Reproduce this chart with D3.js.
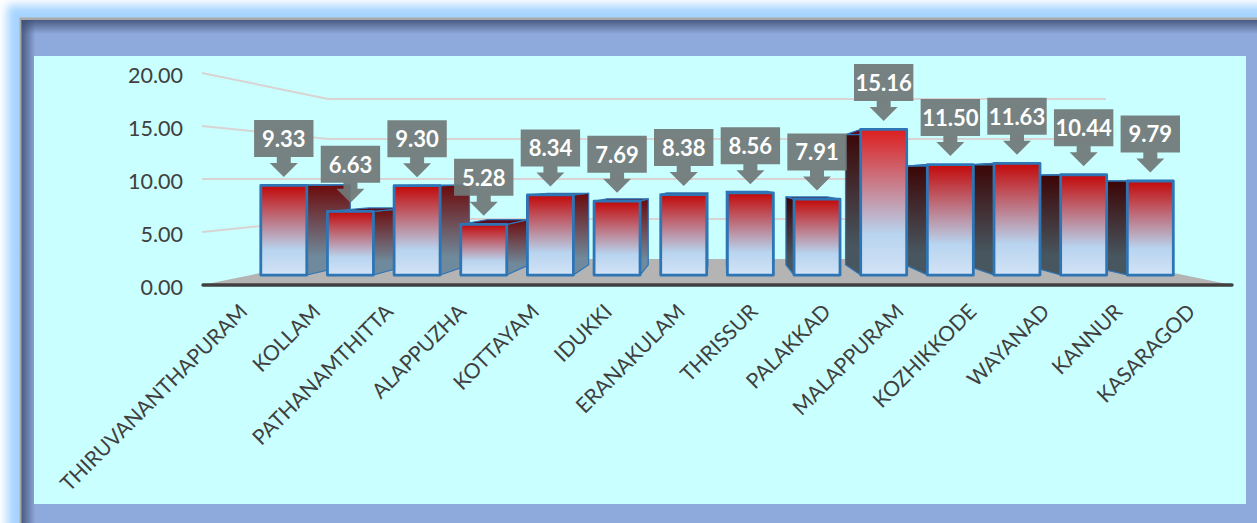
<!DOCTYPE html>
<html>
<head>
<meta charset="utf-8">
<script src="https://cdn.jsdelivr.net/npm/d3@7"></script>
<style>
html, body { margin: 0; padding: 0; background: #fff; overflow: hidden; }
svg { display: block; }
text { font-family: Lato, "Open Sans", sans-serif; }
</style>
</head>
<body>
<div id="vis"></div>
<script>
const districts = ["THIRUVANANTHAPURAM", "KOLLAM", "PATHANAMTHITTA", "ALAPPUZHA", "KOTTAYAM", "IDUKKI", "ERANAKULAM",
    "THRISSUR", "PALAKKAD", "MALAPPURAM", "KOZHIKKODE", "WAYANAD", "KANNUR", "KASARAGOD"];
const amounts = [9.33, 6.63, 9.30, 5.28, 8.34, 7.69, 8.38, 8.56, 7.91, 15.16, 11.50, 11.63, 10.44, 9.79];
const y_ticks = [0, 5, 10, 15, 20];

const frame_width = 1257;
const frame_height = 523;

// perspective of the 3d plot: everything shrinks towards this point
const vanish = {x: 717.5, y: 179};
const depth_wall = 0.755;
const depth_bar_front = 0.906;
const depth_bar_back = 0.81;

const x_scale = d3.scaleBand()
    .domain(districts)
    .range([202, 1232])
    .paddingInner(0.31)
    .paddingOuter(0.155);

// category labels sit on a slightly tighter pitch than the bars
const label_scale = d3.scaleBand()
    .domain(districts)
    .range([200.35, 1221]);

const y_scale = d3.scaleLinear()
    .domain([0, 20])
    .range([285, 73]);

function project(x, value, depth) {
    return [vanish.x + (x - vanish.x) * depth, vanish.y + (y_scale(value) - vanish.y) * depth];
}

const svg = d3.select("#vis")
    .append("svg")
        .attr("width", frame_width)
        .attr("height", frame_height);

const defs = svg.append("defs");

function addGradient(id, x2, y2, stops) {
    const grad = defs.append("linearGradient")
        .attr("id", id)
        .attr("x1", 0).attr("y1", 0)
        .attr("x2", x2).attr("y2", y2);
    stops.forEach((s) => {
        grad.append("stop").attr("offset", s[0]).attr("stop-color", s[1]).attr("stop-opacity", s[2] === undefined ? 1 : s[2]);
    });
}

addGradient("front", 0, 1, [[0, "#c30808"], [0.72, "#b8d4ef"], [1, "#d2e3f6"]]);
addGradient("frontTall", 0, 1, [[0, "#dc1e1e"], [0.72, "#b8d4ef"], [1, "#d2e3f6"]]);
addGradient("sideLight", 0, 1, [[0, "#6c0a0a"], [0.8, "#6f8a9c"], [1, "#6f8a9c"]]);
addGradient("sideDark", 0, 1, [[0, "#3c0404"], [0.8, "#47565f"], [1, "#47565f"]]);
addGradient("shadeTop", 0, 1, [[0, "#3d4d72", 0.85], [1, "#3d4d72", 0]]);
addGradient("shadeLeft", 1, 0, [[0, "#3d4d72", 0.85], [1, "#3d4d72", 0]]);

defs.append("filter")
    .attr("id", "glow")
    .attr("x", "-5%").attr("y", "-10%")
    .attr("width", "110%").attr("height", "120%")
    .append("feGaussianBlur")
        .attr("stdDeviation", 5);

// panel behind the chart
svg.append("rect")
    .attr("x", 7).attr("y", 5)
    .attr("width", 1300).attr("height", 600)
    .attr("fill", "#a6d4ff")
    .attr("filter", "url(#glow)");
svg.append("rect")
    .attr("x", 19.5).attr("y", 17.5)
    .attr("width", 1300).attr("height", 600)
    .attr("fill", "#a9a9a9");
svg.append("rect")
    .attr("x", 21.5).attr("y", 20)
    .attr("width", 1300).attr("height", 600)
    .attr("fill", "#8ea9db");
svg.append("rect")
    .attr("x", 21.5).attr("y", 20)
    .attr("width", 1300).attr("height", 14)
    .attr("fill", "url(#shadeTop)");
svg.append("rect")
    .attr("x", 21.5).attr("y", 20)
    .attr("width", 14).attr("height", 600)
    .attr("fill", "url(#shadeLeft)");
svg.append("rect")
    .attr("x", 34).attr("y", 56)
    .attr("width", 1212).attr("height", 448)
    .attr("fill", "#c9ffff");

// floor
const floor = [project(202, 0, 1), project(202, 0, depth_wall), project(1232, 0, depth_wall), project(1232, 0, 1)];
svg.append("polygon")
    .attr("points", floor.join(" "))
    .attr("fill", "#b4b4b4");

// gridlines run along the left wall then the back wall
svg.selectAll(".grid")
    .data(y_ticks.filter((d) => {return d > 0;}))
    .enter()
    .append("polyline")
        .attr("class", "grid")
        .attr("points", (d) => {return [project(202, d, 1), project(202, d, depth_wall), project(1232, d, depth_wall)].join(" ");})
        .attr("fill", "none")
        .attr("stroke", "#d9d3d3")
        .attr("stroke-width", 2);

// axes
svg.append("g")
    .attr("transform", "translate(202,0)")
    .call(d3.axisLeft(y_scale).tickValues(y_ticks).tickSize(0).tickPadding(19).tickFormat(d3.format(".2f")))
    .call((g) => {g.select(".domain").remove();})
    .selectAll("text")
        .attr("font-size", "21.5px")
        .attr("fill", "#404040")
        .attr("dy", "0.42em");

svg.append("g")
    .attr("transform", "translate(0,285)")
    .call(d3.axisBottom(label_scale).tickSize(0).tickPadding(0))
    .call((g) => {g.select(".domain").remove();})
    .selectAll("text")
        .attr("font-size", "21px")
        .attr("fill", "#404040")
        .attr("text-anchor", "end")
        .attr("y", 0)
        .attr("dy", 0)
        .attr("transform", "translate(12,28) rotate(-45)");

svg.append("line")
    .attr("x1", 203).attr("x2", 1232)
    .attr("y1", 285).attr("y2", 285)
    .attr("stroke", "#404040")
    .attr("stroke-width", 3.4)
    .attr("stroke-linecap", "round");

// bars, the ones furthest from the centre go first so nearer ones sit on top of their sides
const bars = districts.map((name, i) => {
    const x0 = x_scale(name);
    return {name: name, value: amounts[i], x0: x0, x1: x0 + x_scale.bandwidth()};
}).sort((a, b) => {
    return Math.abs((b.x0 + b.x1) / 2 - vanish.x) - Math.abs((a.x0 + a.x1) / 2 - vanish.x);
});

const bar_groups = svg.selectAll(".bar")
    .data(bars)
    .enter()
    .append("g")
        .attr("class", "bar")
        .attr("stroke", "#2e75b6")
        .attr("stroke-linejoin", "round");

// side face, on the side that looks at the centre
bar_groups.append("polygon")
    .attr("points", (d) => {
        const x = d.x1 < vanish.x ? d.x1 : d.x0;
        return [project(x, 0, depth_bar_front), project(x, 0, depth_bar_back),
            project(x, d.value, depth_bar_back), project(x, d.value, depth_bar_front)].join(" ");
    })
    .attr("stroke-width", 1.2)
    .attr("fill", (d) => {return d.x1 < vanish.x ? "url(#sideLight)" : "url(#sideDark)";});

// top face
bar_groups.append("polygon")
    .attr("points", (d) => {
        return [project(d.x0, d.value, depth_bar_front), project(d.x0, d.value, depth_bar_back),
            project(d.x1, d.value, depth_bar_back), project(d.x1, d.value, depth_bar_front)].join(" ");
    })
    .attr("stroke-width", 1.2)
    .attr("fill", "#5c0a18");

// front face
bar_groups.append("polygon")
    .attr("points", (d) => {
        return [project(d.x0, 0, depth_bar_front), project(d.x0, d.value, depth_bar_front),
            project(d.x1, d.value, depth_bar_front), project(d.x1, 0, depth_bar_front)].join(" ");
    })
    .attr("stroke-width", 2.8)
    .attr("fill", (d) => {return d.value > 15 ? "url(#frontTall)" : "url(#front)";});

// data callouts
const callouts = svg.selectAll(".callout")
    .data(districts.map((name, i) => {return {name: name, value: amounts[i]};}))
    .enter()
    .append("g")
        .attr("class", "callout")
        .attr("transform", (d) => {
            const tip = project(x_scale(d.name) + x_scale.bandwidth() / 2, d.value, depth_bar_front);
            return "translate(" + tip[0] + "," + (tip[1] - 8.5) + ")";
        });

callouts.append("path")
    .attr("d", "M-29.7,-57H29.7V-20H7V-14H14L0,0L-14,-14H-7V-20H-29.7Z")
    .attr("fill", "#707977")
    .attr("fill-opacity", 0.93);

callouts.append("text")
    .attr("y", -38)
    .attr("dy", "0.36em")
    .attr("text-anchor", "middle")
    .attr("font-size", "22px")
    .attr("font-weight", "bold")
    .attr("fill", "#ffffff")
    .text((d) => {return d3.format(".2f")(d.value);});
</script>
</body>
</html>
